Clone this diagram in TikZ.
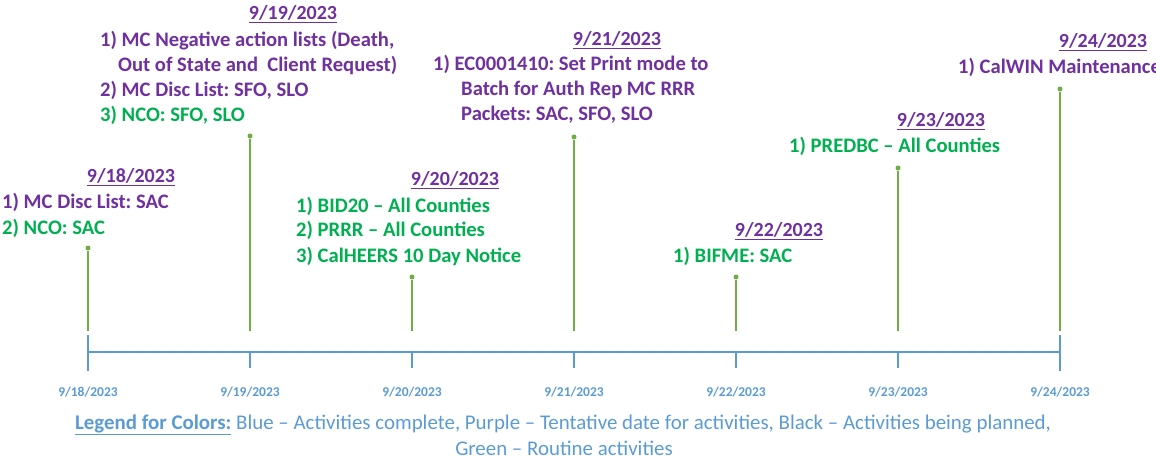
\documentclass[tikz,border=0pt]{standalone}
\usepackage{fontspec}
\setmainfont{Carlito}
\usetikzlibrary{positioning}
\frenchspacing
\definecolor{tlpurple}{HTML}{7030A0}
\definecolor{tlgreen}{HTML}{00B050}
\definecolor{stemgreen}{HTML}{70AD47}
\definecolor{axisblue}{HTML}{5B9BD5}
\tikzstyle{dot}=[circle,fill=stemgreen,minimum size=5pt,inner sep=0pt]
\tikzstyle{stem}=[draw,stemgreen,line width=1.6pt]
\tikzstyle{axisline}=[draw,axisblue,line width=1.3pt]
\tikzstyle{item}=[anchor=base west,inner sep=0pt,font=\fontsize{20.6}{24}\selectfont\bfseries]
\tikzstyle{datehead}=[anchor=base,inner sep=0pt,font=\fontsize{20}{24}\selectfont\bfseries,text=tlpurple]
\tikzstyle{ticklabel}=[anchor=base,inner sep=0pt,font=\fontsize{13.5}{16}\selectfont\bfseries,text=axisblue]
\tikzstyle{legend}=[anchor=base,inner sep=0pt,font=\fontsize{20.9}{24}\selectfont,text=axisblue]

\begin{document}
\begin{tikzpicture}[x=1pt,y=-1pt]
  \useasboundingbox (0,0) rectangle (1156,462);

    % The time axis with its ticks and dates
    \foreach \i/\x in {1/88, 2/250, 3/412, 4/574, 5/736, 6/898, 7/1060}
    {
        \coordinate (a\i) at (\x,352);
        \node[ticklabel] (l\i) at (\x,396) {9/\the\numexpr17+\i\relax/2023};
    }
    \path[axisline] (a1) -- (a7);
    \foreach \i in {2,...,6}
        \path[axisline] (a\i) -- ++(0,16);
    \path[axisline] ([yshift=17pt]a1) -- ++(0,36);
    \path[axisline] ([yshift=17pt]a7) -- ++(0,36);

    % Stems from the dots down to the axis
    \foreach \i/\x/\y in {1/88/248, 2/250/136, 3/412/277, 4/574/137, 5/736/277, 6/898/168, 7/1060/89}
    {
        \node[dot] (d\i) at (\x,\y) {};
        \coordinate (s\i) at (\x,331);
        \path[stem] (d\i) -- (s\i);
    }

    % Dates above the activities
    \foreach \i/\x/\y in {1/131/183, 2/293/20, 3/455/186, 4/617/46, 5/779/237, 6/941/127, 7/1103/48}
        \node[datehead] (h\i) at (\x,\y) {\underline{9/\the\numexpr17+\i\relax/2023}};

    % Activities, one line each
    \foreach \x/\y/\name/\col/\txt in {
        2/209/i1a/tlpurple/{1) MC Disc List: SAC},
        2/235/i1b/tlgreen/{2) NCO: SAC},
        100/47/i2a/tlpurple/{1) MC Negative action lists (Death,},
        118/72/i2b/tlpurple/{Out of State and\ \ Client Request)},
        100/97/i2c/tlpurple/{2) MC Disc List: SFO, SLO},
        100/122/i2d/tlgreen/{3) NCO: SFO, SLO},
        296/213/i3a/tlgreen/{1) BID20 – All Counties},
        296/237/i3b/tlgreen/{2) PRRR – All Counties},
        296/262/i3c/tlgreen/{3) CalHEERS 10 Day Notice},
        433/71/i4a/tlpurple/{1) EC0001410: Set Print mode to},
        461/96/i4b/tlpurple/{Batch for Auth Rep MC RRR},
        461/121/i4c/tlpurple/{Packets: SAC, SFO, SLO},
        673/263/i5a/tlgreen/{1) BIFME: SAC},
        789/153/i6a/tlgreen/{1) PREDBC – All Counties},
        958/74/i7a/tlpurple/{1) CalWIN Maintenance}}
        \node[item,text=\col] (\name) at (\x,\y) {\txt};

    % Legend
    \node[legend] (leg1) at (563,429) {\underline{\textbf{Legend for Colors:}} Blue – Activities complete, Purple – Tentative date for activities, Black – Activities being planned,};
    \node[legend] (leg2) at (564,455) {Green – Routine activities};

\end{tikzpicture}
\end{document}
